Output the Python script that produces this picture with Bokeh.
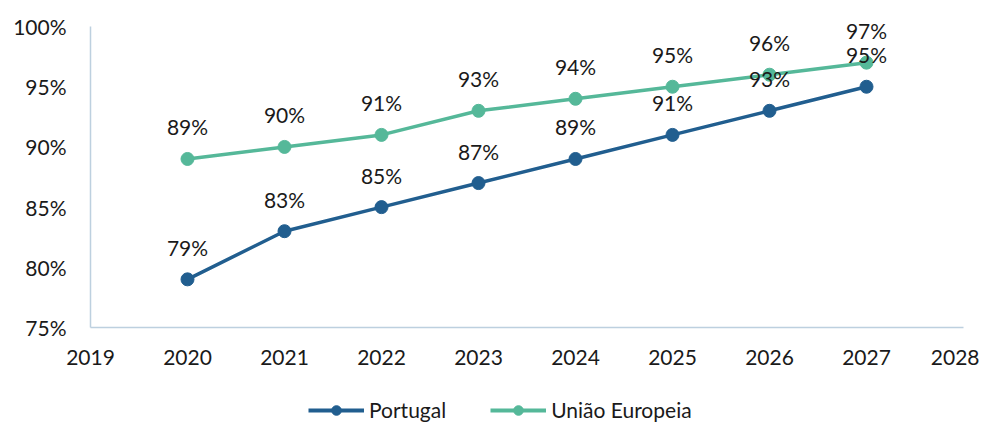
from bokeh.plotting import figure
from bokeh.layouts import column
from bokeh.models import ColumnDataSource, LabelSet, Legend, LegendItem, NumeralTickFormatter, FixedTicker, Range1d
from bokeh.core.properties import value
from bokeh.embed import file_html
from bokeh.resources import INLINE

years = [2020, 2021, 2022, 2023, 2024, 2025, 2026, 2027]
portugal = [0.79, 0.83, 0.85, 0.87, 0.89, 0.91, 0.93, 0.95]
ue = [0.89, 0.90, 0.91, 0.93, 0.94, 0.95, 0.96, 0.97]
series_names = ["Portugal", "União Europeia"]
x_ticks = list(range(2019, 2029))
y_ticks = [0.75, 0.80, 0.85, 0.90, 0.95, 1.00]

C_PT = "#215e8f"
C_UE = "#55b899"
FONT = "Lato"
TXT = "#1a1a1a"

p = figure(width=979, height=372, output_backend="svg", toolbar_location=None,
           x_range=Range1d(2019, 2028), y_range=Range1d(0.75, 1.015),
           min_border_left=90, min_border_right=16, min_border_top=8, min_border_bottom=45)
p.grid.visible = False
p.outline_line_color = None

for ax in (p.xaxis[0], p.yaxis[0]):
    ax.axis_line_color = "#bdd0df"
    ax.axis_line_width = 1.5
    ax.major_tick_line_color = None
    ax.minor_tick_line_color = None
    ax.major_label_text_font = FONT
    ax.major_label_text_font_size = "21px"
    ax.major_label_text_color = TXT
p.xaxis.ticker = FixedTicker(ticks=x_ticks)
p.yaxis.ticker = FixedTicker(ticks=y_ticks)
p.yaxis.bounds = (y_ticks[0], y_ticks[-1])
p.yaxis.formatter = NumeralTickFormatter(format="0%")
p.xaxis.major_label_standoff = 16
p.yaxis.major_label_standoff = 18

src_pt = ColumnDataSource(dict(x=years, y=portugal, t=[f"{round(v*100)}%" for v in portugal]))
src_ue = ColumnDataSource(dict(x=years, y=ue, t=[f"{round(v*100)}%" for v in ue]))

for src, col in ((src_pt, C_PT), (src_ue, C_UE)):
    p.line("x", "y", source=src, line_color=col, line_width=3.5)
    p.scatter("x", "y", source=src, size=13, fill_color=col, line_color=col)

for src in (src_pt, src_ue):
    lab = LabelSet(x="x", y="y", text="t", source=src, y_offset=32,
                   text_align="center", text_baseline="middle",
                   text_font=value(FONT), text_font_size=value("21px"), text_color=TXT)
    p.add_layout(lab)

# legend strip below the chart
lg = figure(width=979, height=50, output_backend="svg", toolbar_location=None,
            x_range=Range1d(0, 1), y_range=Range1d(0, 1),
            min_border_left=0, min_border_right=0, min_border_top=0, min_border_bottom=0)
lg.axis.visible = False
lg.grid.visible = False
lg.outline_line_color = None
items = []
for name, col in zip(series_names, (C_PT, C_UE)):
    empty = ColumnDataSource(dict(x=[float("nan")], y=[float("nan")]))
    r1 = lg.line("x", "y", source=empty, line_color=col, line_width=4)
    r2 = lg.scatter("x", "y", source=empty, size=13, fill_color=col, line_color=col)
    items.append(LegendItem(label=name, renderers=[r1, r2]))
legend = Legend(items=items, orientation="horizontal", location=(218, 0),
                label_text_font=FONT, label_text_font_size="21px", label_text_color=TXT,
                glyph_width=56, glyph_height=24, label_standoff=5, spacing=44,
                border_line_color=None, background_fill_alpha=0, margin=0, padding=0)
lg.add_layout(legend)

layout = column(p, lg, spacing=0)
open("out.html", "w").write(file_html(layout, INLINE))
